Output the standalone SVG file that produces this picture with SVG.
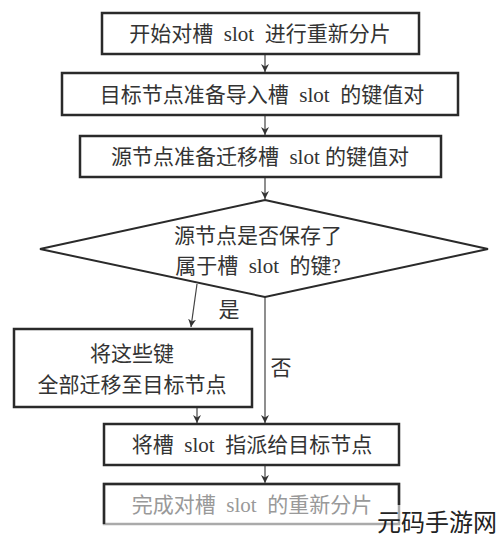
<svg xmlns="http://www.w3.org/2000/svg" width="500" height="541" viewBox="0 0 500 541">
<defs>
<marker id="ah" viewBox="0 0 10 10" refX="10" refY="5" markerWidth="8" markerHeight="8" markerUnits="userSpaceOnUse" orient="auto">
<path d="M0,0 L10,5 L0,10 L3,5 Z" fill="#333"/>
</marker>
<style>
.box{fill:#fff;stroke:#2a2a2a;stroke-width:2.5}
.dia{fill:#fff;stroke:#2a2a2a;stroke-width:2}
.t{font-family:"Liberation Serif","Noto Sans CJK SC",serif;font-size:21px;fill:#333;text-anchor:middle;white-space:pre}
.c{fill:none;stroke:#444;stroke-width:1.2;marker-end:url(#ah)}
</style>
</defs>
<rect width="500" height="541" fill="#fff"/>
<g id="connectors">
<line class="c" x1="265" y1="55" x2="265" y2="72"/>
<line class="c" x1="265" y1="116" x2="265" y2="135"/>
<line class="c" x1="265" y1="178" x2="265" y2="199"/>
<line class="c" x1="197" y1="284" x2="191" y2="327"/>
<line class="c" x1="265" y1="297" x2="265" y2="423"/>
<line class="c" x1="197" y1="408" x2="197" y2="423"/>
<line class="c" x1="265" y1="466" x2="265" y2="483"/>
<text class="t" x="229" y="317">是</text>
<text class="t" x="281" y="375">否</text>
</g>
<g id="n1">
<rect class="box" x="102" y="13" width="317" height="41"/>
<text class="t" x="260" y="41">开始对槽  slot  进行重新分片</text>
</g>
<g id="n2">
<rect class="box" x="62" y="73" width="396" height="42"/>
<text class="t" x="262" y="102">目标节点准备导入槽  slot  的键值对</text>
</g>
<g id="n3">
<rect class="box" x="80" y="136" width="361" height="41"/>
<text class="t" x="260" y="164">源节点准备迁移槽  slot 的键值对</text>
</g>
<g id="n4">
<polygon class="dia" points="265,200 488,249 265,297 40,249"/>
<text class="t" x="258" y="243">源节点是否保存了</text>
<text class="t" x="258" y="273">属于槽  slot  的键?</text>
</g>
<g id="n5">
<rect class="box" x="14" y="329" width="238" height="78"/>
<text class="t" x="132" y="361">将这些键</text>
<text class="t" x="132" y="392">全部迁移至目标节点</text>
</g>
<g id="n6">
<rect class="box" x="104" y="424" width="295" height="41"/>
<text class="t" x="252" y="452">将槽  slot  指派给目标节点</text>
</g>
<g id="n7">
<rect class="box" x="104" y="484" width="295" height="40" style="stroke:#aaa"/>
<path d="M104,524 V484 H399 V505" fill="none" stroke="#2a2a2a" stroke-width="2.5"/>
<text class="t" x="252" y="512" style="fill:#999">完成对槽  slot  的重新分片</text>
</g>
<text x="497" y="531" style="font-family:'Noto Sans CJK SC',sans-serif;font-size:24px;fill:#222;text-anchor:end">元码手游网</text>
</svg>
